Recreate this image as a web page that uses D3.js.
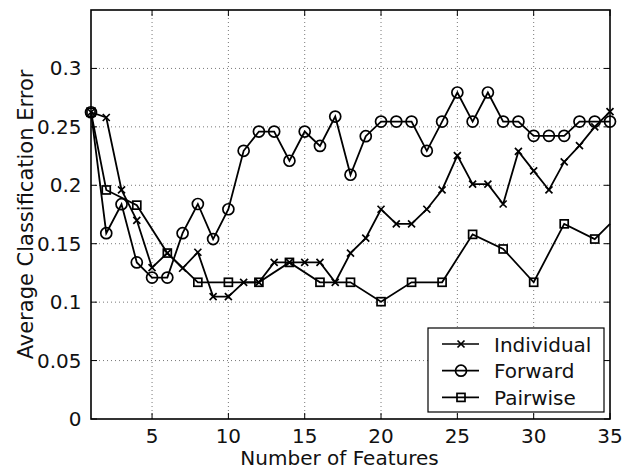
<!DOCTYPE html>
<html lang="en">
<head>
<meta charset="UTF-8">
<title>Average Classification Error</title>
<script src="https://d3js.org/d3.v7.min.js"></script>
<style>
    body { margin: 0; background: #fff; }
    text { font-family: "DejaVu Sans", "Liberation Sans", Arial, sans-serif; fill: #111; }
    .grid line { stroke: #555; stroke-width: 0.8px; stroke-dasharray: 1,3; }
    .series { fill: none; stroke: #000; stroke-width: 1.8px; }
</style>
</head>
<body>
<script>
// data
const featuresX = d3.range(1, 36)
const individual = [0.2625, 0.258, 0.196, 0.170, 0.1295, 0.142, 0.129, 0.1427, 0.1047, 0.1047,
    0.117, 0.117, 0.134, 0.134, 0.134, 0.134, 0.117, 0.142, 0.1547, 0.1795,
    0.167, 0.167, 0.1795, 0.196, 0.2254, 0.201, 0.201, 0.184, 0.229, 0.2123,
    0.196, 0.220, 0.234, 0.250, 0.263]
const forward = [0.2625, 0.159, 0.1838, 0.134, 0.121, 0.121, 0.159, 0.184, 0.154, 0.1795,
    0.2295, 0.246, 0.246, 0.221, 0.246, 0.2337, 0.2588, 0.209, 0.242, 0.2545,
    0.2545, 0.2545, 0.2295, 0.2545, 0.2794, 0.2545, 0.2794, 0.2545, 0.2545, 0.2423,
    0.2423, 0.2423, 0.2545, 0.2545, 0.2545]
const pairwiseX = [1, 2, 4, 6, 8, 10, 12, 14, 16, 18, 20, 22, 24, 26, 28, 30, 32, 34, 35]
const pairwise = [0.2625, 0.196, 0.183, 0.142, 0.117, 0.117, 0.117, 0.134, 0.117, 0.117,
    0.1004, 0.117, 0.117, 0.158, 0.1455, 0.117, 0.167, 0.154, 0.167]
const xTicks = [5, 10, 15, 20, 25, 30, 35]
const yTicks = [0, 0.05, 0.1, 0.15, 0.2, 0.25, 0.3]
const seriesNames = ["Individual", "Forward", "Pairwise"]

const W = 633, H = 471
const MARGIN = {TOP: 10, RIGHT: 23, BOTTOM: 52, LEFT: 91}
const WIDTH = W - MARGIN.LEFT - MARGIN.RIGHT
const HEIGHT = H - MARGIN.TOP - MARGIN.BOTTOM
const FS = "20px"

const svg = d3.select("body").append("svg")
    .attr("width", W)
    .attr("height", H)

const g = svg.append("g")
    .attr("transform", `translate(${MARGIN.LEFT}, ${MARGIN.TOP})`)

const x = d3.scaleLinear().domain([1, 35]).range([0, WIDTH])
const y = d3.scaleLinear().domain([0, 0.35]).range([HEIGHT, 0])

// dotted grid
const grid = g.append("g").attr("class", "grid")
grid.selectAll(".gx").data(xTicks.filter(t => t < 35)).enter().append("line")
    .attr("x1", d => x(d)).attr("x2", d => x(d))
    .attr("y1", 0).attr("y2", HEIGHT)
grid.selectAll(".gy").data(yTicks.filter(t => t > 0)).enter().append("line")
    .attr("x1", 0).attr("x2", WIDTH)
    .attr("y1", d => y(d)).attr("y2", d => y(d))

// inward ticks on all four sides
const tickLen = 6
const tk = g.append("g").attr("stroke", "#000").attr("stroke-width", 1)
xTicks.forEach(t => {
    tk.append("line").attr("x1", x(t)).attr("x2", x(t)).attr("y1", HEIGHT).attr("y2", HEIGHT - tickLen)
    tk.append("line").attr("x1", x(t)).attr("x2", x(t)).attr("y1", 0).attr("y2", tickLen)
})
yTicks.forEach(t => {
    tk.append("line").attr("x1", 0).attr("x2", tickLen).attr("y1", y(t)).attr("y2", y(t))
    tk.append("line").attr("x1", WIDTH).attr("x2", WIDTH - tickLen).attr("y1", y(t)).attr("y2", y(t))
})

// tick labels
g.selectAll(".xlab").data(xTicks).enter().append("text")
    .attr("x", d => x(d))
    .attr("y", HEIGHT + 24)
    .attr("text-anchor", "middle")
    .attr("font-size", FS)
    .text(d => d)
g.selectAll(".ylab").data(yTicks).enter().append("text")
    .attr("x", -9.5)
    .attr("y", d => y(d) + 7)
    .attr("text-anchor", "end")
    .attr("font-size", FS)
    .text(d => d === 0 ? "0" : String(d))

// axis titles
svg.append("text")
    .attr("x", MARGIN.LEFT + WIDTH / 2 - 11)
    .attr("y", 465)
    .attr("text-anchor", "middle")
    .attr("font-size", FS)
    .text("Number of Features")
svg.append("text")
    .attr("transform", `translate(33, ${MARGIN.TOP + HEIGHT / 2}) rotate(-90)`)
    .attr("text-anchor", "middle")
    .attr("font-size", "21px")
    .text("Average Classification Error")

// lines
const line = d3.line().x(d => x(d[0])).y(d => y(d[1]))
const indPts = featuresX.map((f, i) => [f, individual[i]])
const fwdPts = featuresX.map((f, i) => [f, forward[i]])
const pwPts = pairwiseX.map((f, i) => [f, pairwise[i]])

;[indPts, fwdPts, pwPts].forEach(pts => {
    g.append("path").datum(pts).attr("class", "series").attr("d", line)
})

// markers
function drawMarker(sel, type) {
    if (type === "x") {
        const s = 3.5
        sel.append("path")
            .attr("d", `M${-s},${-s}L${s},${s}M${-s},${s}L${s},${-s}`)
            .attr("stroke", "#000").attr("stroke-width", 1.7).attr("fill", "none")
    } else if (type === "o") {
        sel.append("circle").attr("r", 5.5)
            .attr("stroke", "#000").attr("stroke-width", 1.7).attr("fill", "none")
    } else {
        sel.append("rect").attr("x", -4).attr("y", -4).attr("width", 8).attr("height", 8)
            .attr("stroke", "#000").attr("stroke-width", 1.7).attr("fill", "none")
    }
}
function markers(pts, type) {
    pts.forEach(p => {
        const m = g.append("g").attr("transform", `translate(${x(p[0])}, ${y(p[1])})`)
        drawMarker(m, type)
    })
}
markers(indPts, "x")
markers(fwdPts, "o")
markers(pwPts.filter(p => p[0] < 35), "s")

// frame
g.append("rect")
    .attr("width", WIDTH).attr("height", HEIGHT)
    .attr("fill", "none").attr("stroke", "#000").attr("stroke-width", 1.6)

// legend
const legend = g.append("g")
    .attr("transform", `translate(${428 - MARGIN.LEFT}, ${328 - MARGIN.TOP})`)
legend.append("rect")
    .attr("width", 176).attr("height", 84)
    .attr("fill", "#fff").attr("stroke", "#000").attr("stroke-width", 1.2)
const types = ["x", "o", "s"]
seriesNames.forEach((name, i) => {
    const row = legend.append("g").attr("transform", `translate(0, ${16 + i * 26.7})`)
    row.append("line").attr("x1", 14).attr("x2", 51)
        .attr("stroke", "#000").attr("stroke-width", 1.7)
    const m = row.append("g").attr("transform", "translate(33, 0)")
    drawMarker(m, types[i])
    row.append("text")
        .attr("x", 66).attr("y", 7.5)
        .attr("font-size", "20px")
        .text(name)
})
</script>
</body>
</html>
